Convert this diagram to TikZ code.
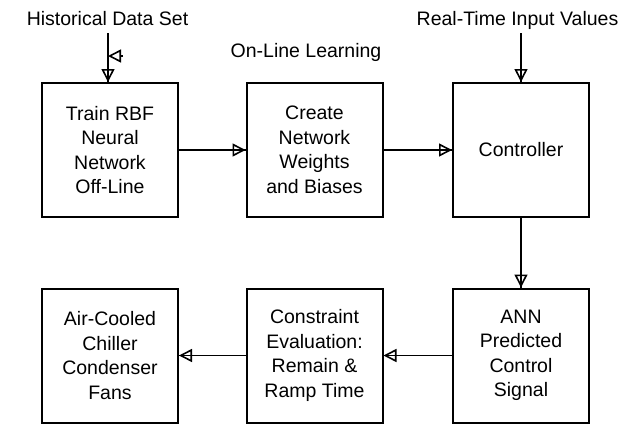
\documentclass[tikz,border=0pt]{standalone}
\usepackage{fontspec}
\setmainfont{Liberation Sans}
\usetikzlibrary{arrows.meta}
\begin{document}
\begin{tikzpicture}[x=1pt,y=-1pt,
  font=\fontsize{19.5}{24.5}\selectfont,
  block/.style={draw,line width=2pt,minimum width=136pt,minimum height=134pt,
    align=center,inner sep=0pt},
  opentip/.style={-{Triangle[open,length=13pt,width=13pt,line width=1.6pt]}},
  conn/.style={draw,line width=1.8pt,opentip,postaction={draw,-}},
  freetext/.style={anchor=base,inner sep=0pt}]
\useasboundingbox (0,0) rectangle (641,424);

% top row
\node[block] (train) at (110,150) {Train RBF\\Neural\\Network\\Off-Line};
\node[block] (create) at (314.5,150) {Create\\Network\\Weights\\and Biases};
\node[block] (ctrl) at (521,150) {Controller};

% bottom row
\node[block] (fans) at (110,355.5) {Air-Cooled\\Chiller\\Condenser\\Fans};
\node[block] (constr) at (314.5,355.5) {Constraint\\Evaluation:\\Remain \&\\Ramp Time};
\node[block] (ann) at (521,355.5) {ANN\\Predicted\\Control\\Signal};

% free texts
\node[freetext] (hist) at (107.5,25) {Historical Data Set};
\node[freetext] (rt) at (517.5,25) {Real-Time Input Values};
\node[freetext] (online) at (306,57) {On-Line Learning};

% inputs
\coordinate (histtop) at (108,33);
\coordinate (rttop) at (521,33);
\draw[conn] (histtop) -- (histtop |- train.north);
\draw[conn] (rttop) -- (ctrl.north);

% stray arrow tip beside the data input
\coordinate (fbstart) at (123,56);
\coordinate (fbend) at (108,56);
\draw[line width=1.6pt,opentip] (fbstart) -- (fbend);

% flow
\draw[conn] (train) -- (create);
\draw[conn] (create) -- (ctrl);
\draw[conn] (ctrl) -- (ann);
\draw[conn] (ann) -- (constr);
\draw[conn] (constr) -- (fans);
\end{tikzpicture}
\end{document}
